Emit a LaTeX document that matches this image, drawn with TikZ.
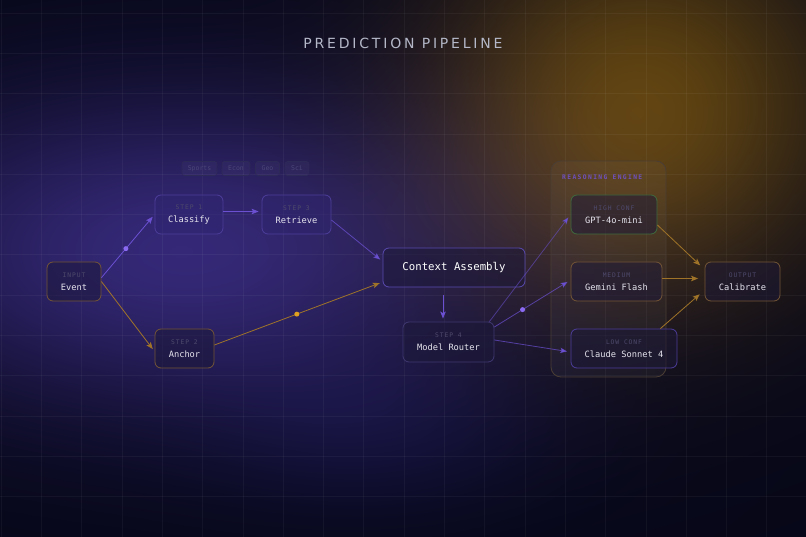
\documentclass[tikz,border=0pt]{standalone}
\usepackage{fontspec}
\usetikzlibrary{arrows.meta}
\newfontfamily\monof{DejaVu Sans Mono}
\newfontfamily\lblf{DejaVu Sans Mono}[LetterSpace=15]
\newfontfamily\englf{DejaVu Sans Mono}[LetterSpace=22]
\newfontfamily\titlef{DejaVu Sans}[LetterSpace=20]
\pgfdeclarefunctionalshading{bgsh}{\pgfpoint{0bp}{0bp}}{\pgfpoint{806bp}{537bp}}{}{
1 index 180 sub 420 div dup mul
1 index 287 sub 210 div dup mul add -1.8 mul 2.71828 exch exp
2 index 640 sub 280 div dup mul
2 index 430 sub 260 div dup mul add -2.0 mul 2.71828 exch exp
3 index 380 sub 260 div dup mul
3 index 110 sub 130 div dup mul add -2.3 mul 2.71828 exch exp
2 index 0.18 mul 2 index 0.35 mul add 1 index 0.03 mul add 0.024 add
3 index 0.13 mul 3 index 0.235 mul add 2 index 0.025 mul add 0.027 add
4 index 0.37 mul 4 index -0.04 mul add 3 index 0.09 mul add 0.095 add
8 3 roll pop pop pop pop pop
}
\definecolor{bg}{HTML}{06071A}
\definecolor{txt}{HTML}{E6E4EE}
\definecolor{lbl}{HTML}{4E4A6C}
\definecolor{titlec}{HTML}{B4B8C8}
\definecolor{bOr}{HTML}{735536}
\definecolor{bPu}{HTML}{4D3D9A}
\definecolor{bCtx}{HTML}{5A4AB0}
\definecolor{bRt}{HTML}{3E3870}
\definecolor{bGr}{HTML}{3F6A3E}
\definecolor{bEng}{HTML}{4A3E34}
\definecolor{aPu}{HTML}{6B50D2}
\definecolor{aOr}{HTML}{A07428}
\definecolor{dPu}{HTML}{8A6AF0}
\definecolor{dOr}{HTML}{E0A020}
\definecolor{boxfill}{HTML}{1C1838}
\definecolor{pfill}{HTML}{2E2470}
\definecolor{tagtxt}{HTML}{4A4678}
\definecolor{tagb}{HTML}{2E2A58}
\definecolor{engt}{HTML}{6E50BE}
\newcommand\lab[1]{{\lblf\fontsize{6.3}{8}\selectfont\color{lbl}#1}}
\tikzset{
  box/.style={rounded corners=6pt, draw, line width=0.8pt, fill=boxfill, fill opacity=0.5,
    text opacity=1, draw opacity=1, align=center, inner sep=0pt, text=txt,
    font=\monof\fontsize{8.7}{13}\selectfont},
  obox/.style={box, draw=bOr},
  pbox/.style={box, draw=bPu},
  sbox/.style={box, draw=bPu, fill=pfill, fill opacity=0.45},
  gbox/.style={box, draw=bGr},
  tagbox/.style={rounded corners=2.5pt, draw=tagb, line width=0.6pt, fill=white, fill opacity=0.03,
    text opacity=1, inner sep=0pt, minimum height=14pt, text=tagtxt,
    font=\monof\fontsize{6.5}{8}\selectfont},
  parr/.style={draw=aPu, line width=0.8pt, -{Stealth[length=7pt,width=5.5pt,inset=1.5pt]}},
  oarr/.style={draw=aOr, line width=0.8pt, -{Stealth[length=7pt,width=5.5pt,inset=1.5pt]}},
  pdot/.style={circle, fill=dPu, inner sep=0pt, minimum size=5pt},
  odot/.style={circle, fill=dOr, inner sep=0pt, minimum size=5pt},
  gridl/.style={draw=white, draw opacity=0.045, line width=0.6pt}
}
\begin{document}
\begin{tikzpicture}[x=1pt,y=-1pt]
\useasboundingbox (0,0) rectangle (806,537);
% background
\fill[bg] (0,0) rectangle (806,537);
\begin{scope}
\clip (0,0) rectangle (806,537);
\node[inner sep=0pt, outer sep=0pt, anchor=north west] (bgshade) at (0,0) {\pgfuseshading{bgsh}};
\foreach \k in {0,...,20} \draw[gridl] (1+40.3*\k,0) -- (1+40.3*\k,537);
\foreach \k in {0,...,13} \draw[gridl] (0,13+40.3*\k) -- (806,13+40.3*\k);
\end{scope}
% title
\node[text=titlec, font=\titlef\fontsize{14}{16}\selectfont] (title) at (403,43) {PREDICTION PIPELINE};
% tags
\node[tagbox, minimum width=35pt] (tsp) at (199.5,168.5) {Sports};
\node[tagbox, minimum width=28pt] (tec) at (236,168.5) {Econ};
\node[tagbox, minimum width=24pt] (tge) at (267.5,168.5) {Geo};
\node[tagbox, minimum width=24pt] (tsc) at (297,168.5) {Sci};
% reasoning engine container
\node[rounded corners=10pt, draw=bEng, line width=0.8pt, fill=white, fill opacity=0.035, draw opacity=1,
  minimum width=115pt, minimum height=216pt, inner sep=0pt] (eng) at (608.5,269) {};
\node[anchor=west, inner sep=0pt, text=engt, font=\englf\bfseries\fontsize{6.3}{8}\selectfont] (engl) at (562,177) {REASONING ENGINE};
% nodes
\node[obox, minimum width=54pt, minimum height=39pt] (ev) at (74,281.5) {\lab{INPUT}\\Event};
\node[sbox, minimum width=68pt, minimum height=39pt] (cls) at (189,214.5) {\lab{STEP 1}\\Classify};
\node[sbox, minimum width=69pt, minimum height=39pt] (ret) at (296.5,214.5) {\lab{STEP 3}\\Retrieve};
\node[obox, minimum width=59pt, minimum height=39pt] (anc) at (184.5,348.5) {\lab{STEP 2}\\Anchor};
\node[box, draw=bCtx, minimum width=142pt, minimum height=39pt, font=\monof\fontsize{10.7}{13}\selectfont, text=white] (ctx) at (454,267.5) {Context Assembly};
\node[box, draw=bRt, minimum width=91pt, minimum height=40pt] (rtr) at (448.5,342) {\lab{STEP 4}\\Model Router};
\node[gbox, minimum width=86pt, minimum height=39pt] (gpt) at (614,214.5) {\lab{HIGH CONF}\\GPT-4o-mini};
\node[obox, minimum width=91pt, minimum height=39pt] (gem) at (616.5,281.5) {\lab{MEDIUM}\\Gemini Flash};
\node[pbox, minimum width=106pt, minimum height=39pt] (cld) at (624,348.5) {\lab{LOW CONF}\\Claude Sonnet 4};
\node[obox, minimum width=75pt, minimum height=39pt] (cal) at (742.5,281.5) {\lab{OUTPUT}\\Calibrate};
% connectors
\draw[parr, shorten >=3pt] ([yshift=3.8pt]ev.east) -- (cls.west) node[pdot, pos=0.46] (d1) {};
\draw[oarr, shorten >=3pt] (ev.east) -- ([yshift=-3pt]anc.west);
\draw[parr, shorten >=3pt] ([yshift=3pt]cls.east) -- ([yshift=3pt]ret.west);
\draw[parr, draw opacity=0.75, shorten >=3pt] ([yshift=-5.5pt]ret.east) -- ([yshift=6pt]ctx.west);
\draw[oarr, shorten >=3pt] ([yshift=3.5pt]anc.east) -- ([yshift=-14.5pt]ctx.west) node[odot, pos=0.49] (d2) {};
\draw[parr, line width=1pt, shorten <=8pt, shorten >=3pt] ([xshift=-11pt]ctx.south) -- ([xshift=-5.5pt]rtr.north);
\draw[parr, draw opacity=0.55, shorten >=3.5pt] ([xshift=-5pt]rtr.north east) -- (gpt.west);
\draw[parr, draw opacity=0.7, shorten >=3.5pt] ([yshift=15pt]rtr.east) -- ([yshift=1.5pt]gem.west) node[pdot, pos=0.37] (d3) {};
\draw[parr, draw opacity=0.7, shorten >=3.5pt] ([yshift=2pt]rtr.east) -- ([yshift=-3.5pt]cld.west);
\draw[oarr, shorten >=6pt] ([yshift=-10.5pt]gpt.east) -- ([yshift=12pt]cal.west);
\draw[oarr, shorten >=6.5pt] ([yshift=3pt]gem.east) -- ([yshift=3pt]cal.west);
\draw[oarr, shorten >=6.5pt] ([xshift=-17pt]cld.north east) -- ([yshift=-8.5pt]cal.west);
\end{tikzpicture}
\end{document}
